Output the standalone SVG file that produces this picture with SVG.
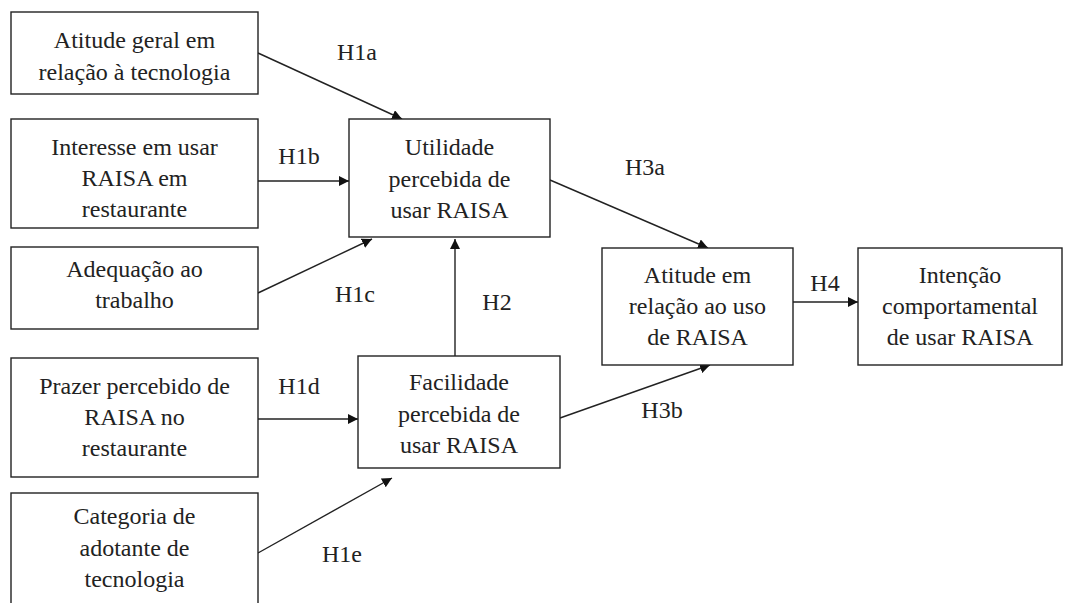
<svg xmlns="http://www.w3.org/2000/svg" width="1069" height="603" viewBox="0 0 1069 603">
<style>
.box{fill:#fff;stroke:#222;stroke-width:1.4}
text{font-family:'Liberation Serif','Times New Roman','DejaVu Serif',serif;font-size:24px;fill:#222;text-anchor:middle}
.c{stroke:#222;stroke-width:1.4;fill:none;marker-end:url(#ah)}
</style>
<defs>
<marker id="ah" viewBox="0 0 10 10" refX="10" refY="5" markerWidth="10" markerHeight="10" markerUnits="userSpaceOnUse" orient="auto">
<path d="M0,0 L10,5 L0,10 Z" fill="#111"/>
</marker>
</defs>
<rect width="1069" height="603" fill="#fff"/>
<g id="connectors">
<line class="c" x1="258" y1="53" x2="402" y2="119"/>
<line class="c" x1="258" y1="181" x2="349" y2="181"/>
<line class="c" x1="258" y1="293" x2="372" y2="239"/>
<line class="c" x1="455" y1="356" x2="455" y2="239"/>
<line class="c" x1="258" y1="419" x2="358" y2="419"/>
<line class="c" x1="258" y1="553" x2="392" y2="478"/>
<line class="c" x1="550" y1="180" x2="708" y2="248"/>
<line class="c" x1="560" y1="418" x2="710" y2="365"/>
<line class="c" x1="793" y1="302" x2="858" y2="302"/>
<text x="357" y="60">H1a</text>
<text x="299" y="164">H1b</text>
<text x="355" y="302">H1c</text>
<text x="497" y="310">H2</text>
<text x="299" y="394">H1d</text>
<text x="342" y="562">H1e</text>
<text x="645" y="175">H3a</text>
<text x="662" y="418">H3b</text>
<text x="825" y="291">H4</text>
</g>
<g id="n1"><rect class="box" x="11" y="12" width="247" height="82"/>
<text x="134.5" y="48">Atitude geral em</text><text x="134.5" y="80">relação à tecnologia</text></g>
<g id="n2"><rect class="box" x="11" y="119" width="247" height="109"/>
<text x="134.5" y="155">Interesse em usar</text><text x="134.5" y="186">RAISA em</text><text x="134.5" y="217">restaurante</text></g>
<g id="n3"><rect class="box" x="11" y="247" width="247" height="82"/>
<text x="134.5" y="277">Adequação ao</text><text x="134.5" y="308">trabalho</text></g>
<g id="n4"><rect class="box" x="11" y="358" width="247" height="119"/>
<text x="134.5" y="394">Prazer percebido de</text><text x="134.5" y="425">RAISA no</text><text x="134.5" y="456">restaurante</text></g>
<g id="n5"><rect class="box" x="11" y="493" width="247" height="120"/>
<text x="134.5" y="524">Categoria de</text><text x="134.5" y="556">adotante de</text><text x="134.5" y="587">tecnologia</text></g>
<g id="n6"><rect class="box" x="349" y="119" width="201" height="118"/>
<text x="449.5" y="155">Utilidade</text><text x="449.5" y="187">percebida de</text><text x="449.5" y="218">usar RAISA</text></g>
<g id="n7"><rect class="box" x="358" y="356" width="202" height="112"/>
<text x="459" y="390">Facilidade</text><text x="459" y="422">percebida de</text><text x="459" y="453">usar RAISA</text></g>
<g id="n8"><rect class="box" x="602" y="248" width="191" height="117"/>
<text x="697.5" y="283">Atitude em</text><text x="697.5" y="314">relação ao uso</text><text x="697.5" y="345">de RAISA</text></g>
<g id="n9"><rect class="box" x="858" y="248" width="204" height="117"/>
<text x="960" y="283">Intenção</text><text x="960" y="314">comportamental</text><text x="960" y="345">de usar RAISA</text></g>
</svg>
